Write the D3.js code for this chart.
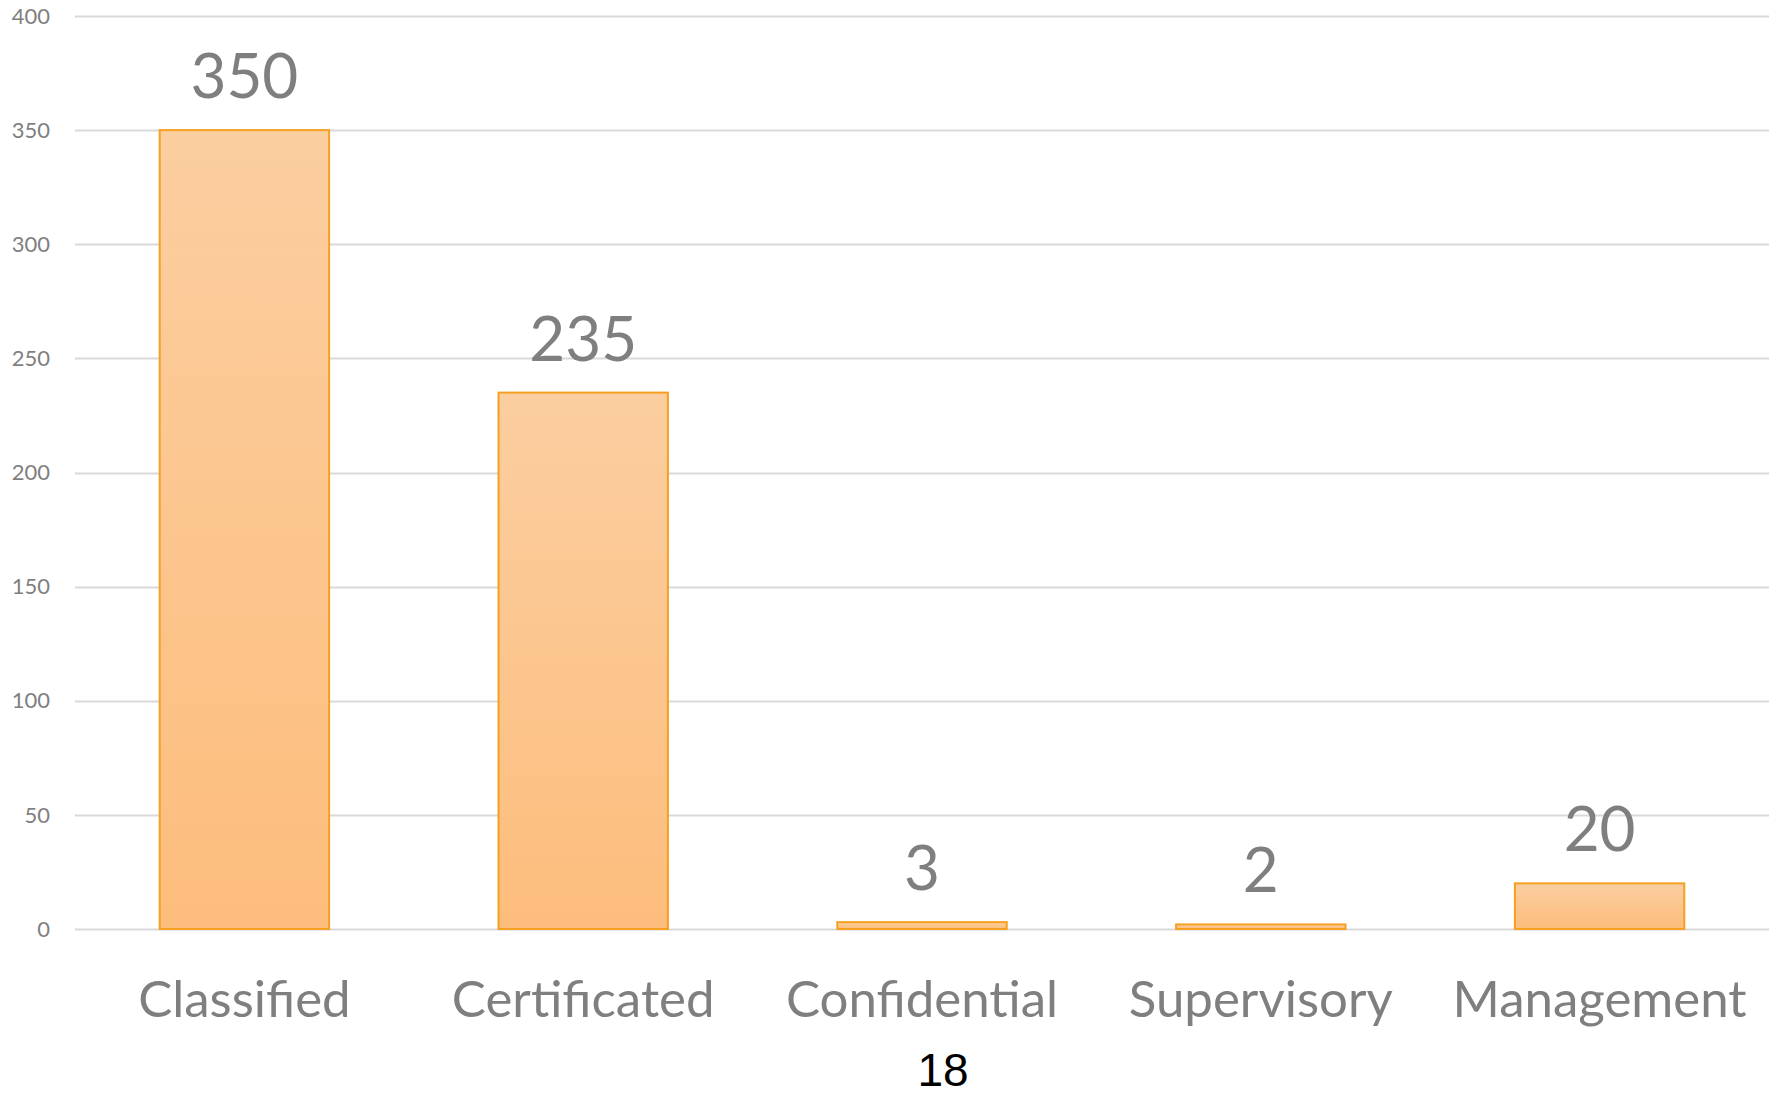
<!DOCTYPE html>
<html>
<head>
<meta charset="utf-8">
<script src="https://cdn.jsdelivr.net/npm/d3@7"></script>
<style>
  body { margin: 0; background: #fff; }
  svg { display: block; }
</style>
</head>
<body>
<svg id="chart" width="1769" height="1097"></svg>
<script>
var categories = ["Classified", "Certificated", "Confidential", "Supervisory", "Management"];
var values = [350, 235, 3, 2, 20];
var yTicks = [0, 50, 100, 150, 200, 250, 300, 350, 400];
var footNote = "18";

var width = 1769, height = 1097;
var margin = { top: 16, right: 0, bottom: 168, left: 75 };

var svg = d3.select("#chart");

var x = d3.scaleBand()
    .domain(categories)
    .range([margin.left, width - margin.right])
    .paddingInner(0.5)
    .paddingOuter(0.25);

var y = d3.scaleLinear()
    .domain([0, 400])
    .range([height - margin.bottom, margin.top]);

var defs = svg.append("defs");
var grad = defs.append("linearGradient")
    .attr("id", "barFill")
    .attr("x1", 0).attr("y1", 0)
    .attr("x2", 0).attr("y2", 1);
grad.append("stop").attr("offset", "0%").attr("stop-color", "#fbcea0");
grad.append("stop").attr("offset", "100%").attr("stop-color", "#fdbd7c");

// gridlines
svg.append("g")
    .attr("class", "grid")
    .selectAll("line")
    .data(yTicks)
    .join("line")
    .attr("x1", margin.left)
    .attr("x2", width)
    .attr("y1", function (d) { return Math.round(y(d)) + 0.5; })
    .attr("y2", function (d) { return Math.round(y(d)) + 0.5; })
    .attr("stroke", "#d9d9d9")
    .attr("stroke-width", 2);

// y axis labels
svg.append("g")
    .selectAll("text")
    .data(yTicks)
    .join("text")
    .attr("x", 50)
    .attr("y", function (d) { return y(d); })
    .attr("dy", "0.35em")
    .attr("text-anchor", "end")
    .attr("font-family", "Lato, 'Open Sans', sans-serif")
    .attr("font-size", 22)
    .attr("fill", "#7f7f7f")
    .text(function (d) { return d; });

// bars
svg.append("g")
    .selectAll("rect")
    .data(values)
    .join("rect")
    .attr("x", function (d, i) { return x(categories[i]); })
    .attr("y", function (d) { return y(d); })
    .attr("width", x.bandwidth())
    .attr("height", function (d) { return y(0) - y(d); })
    .attr("fill", "url(#barFill)")
    .attr("stroke", "#f5a020")
    .attr("stroke-width", 2);

// value labels
svg.append("g")
    .selectAll("text")
    .data(values)
    .join("text")
    .attr("x", function (d, i) { return x(categories[i]) + x.bandwidth() / 2; })
    .attr("y", function (d) { return y(d) - 32; })
    .attr("text-anchor", "middle")
    .attr("font-family", "Lato, 'Open Sans', sans-serif")
    .attr("font-size", 62)
    .attr("fill", "#7f7f7f")
    .text(function (d) { return d; });

// category labels
svg.append("g")
    .selectAll("text")
    .data(categories)
    .join("text")
    .attr("x", function (d) { return x(d) + x.bandwidth() / 2; })
    .attr("y", 1017)
    .attr("text-anchor", "middle")
    .attr("font-family", "Lato, 'Open Sans', sans-serif")
    .attr("font-size", 51)
    .attr("fill", "#7f7f7f")
    .text(function (d) { return d; });

svg.append("text")
    .attr("x", 943)
    .attr("y", 1086)
    .attr("text-anchor", "middle")
    .attr("font-family", "'Liberation Sans', Arial, sans-serif")
    .attr("font-size", 46)
    .attr("fill", "#000")
    .text(footNote);
</script>
</body>
</html>
